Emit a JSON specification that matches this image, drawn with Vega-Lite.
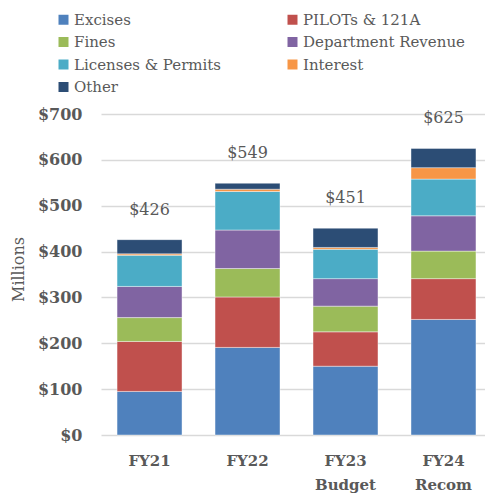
{
  "$schema": "https://vega.github.io/schema/vega-lite/v6.json",
  "width": 384,
  "height": 321,
  "autosize": "none",
  "padding": {"left": 101, "top": 114, "right": 0, "bottom": 62},
  "background": "white",
  "config": {
    "view": {"stroke": null},
    "font": "DejaVu Serif",
    "text": {"font": "DejaVu Serif"},
    "legend": {"labelFont": "DejaVu Serif", "titleFont": "DejaVu Serif"}
  },
  "data": {
    "values": [
      {"year": "FY21", "cat": "Excises", "ord": 1, "value": 95},
      {"year": "FY21", "cat": "PILOTs & 121A", "ord": 2, "value": 109},
      {"year": "FY21", "cat": "Fines", "ord": 3, "value": 52},
      {"year": "FY21", "cat": "Department Revenue", "ord": 4, "value": 68},
      {"year": "FY21", "cat": "Licenses & Permits", "ord": 5, "value": 68},
      {"year": "FY21", "cat": "Interest", "ord": 6, "value": 3},
      {"year": "FY21", "cat": "Other", "ord": 7, "value": 31},
      {"year": "FY22", "cat": "Excises", "ord": 1, "value": 191},
      {"year": "FY22", "cat": "PILOTs & 121A", "ord": 2, "value": 110},
      {"year": "FY22", "cat": "Fines", "ord": 3, "value": 62},
      {"year": "FY22", "cat": "Department Revenue", "ord": 4, "value": 84},
      {"year": "FY22", "cat": "Licenses & Permits", "ord": 5, "value": 84},
      {"year": "FY22", "cat": "Interest", "ord": 6, "value": 5},
      {"year": "FY22", "cat": "Other", "ord": 7, "value": 13},
      {"year": "FY23 Budget", "cat": "Excises", "ord": 1, "value": 150},
      {"year": "FY23 Budget", "cat": "PILOTs & 121A", "ord": 2, "value": 75},
      {"year": "FY23 Budget", "cat": "Fines", "ord": 3, "value": 56},
      {"year": "FY23 Budget", "cat": "Department Revenue", "ord": 4, "value": 60},
      {"year": "FY23 Budget", "cat": "Licenses & Permits", "ord": 5, "value": 64},
      {"year": "FY23 Budget", "cat": "Interest", "ord": 6, "value": 4},
      {"year": "FY23 Budget", "cat": "Other", "ord": 7, "value": 42},
      {"year": "FY24 Recom", "cat": "Excises", "ord": 1, "value": 252},
      {"year": "FY24 Recom", "cat": "PILOTs & 121A", "ord": 2, "value": 89},
      {"year": "FY24 Recom", "cat": "Fines", "ord": 3, "value": 60},
      {"year": "FY24 Recom", "cat": "Department Revenue", "ord": 4, "value": 77},
      {"year": "FY24 Recom", "cat": "Licenses & Permits", "ord": 5, "value": 80},
      {"year": "FY24 Recom", "cat": "Interest", "ord": 6, "value": 25},
      {"year": "FY24 Recom", "cat": "Other", "ord": 7, "value": 42}
    ]
  },
  "encoding": {
    "x": {
      "field": "year",
      "type": "nominal",
      "sort": null,
      "scale": {"paddingInner": 0.337, "paddingOuter": 0.128, "align": 0.64},
      "axis": {
        "title": null,
        "labelAngle": 0,
        "labelExpr": "split(datum.label, ' ')",
        "labelFont": "DejaVu Serif",
        "labelFontWeight": "bold",
        "labelFontSize": 15,
        "labelColor": "#595959",
        "labelBaseline": "top",
        "labelLineHeight": 24,
        "labelPadding": 18,
        "ticks": false,
        "tickSize": 0,
        "domain": false,
        "grid": false
      }
    }
  },
  "layer": [
    {
      "mark": {"type": "bar", "stroke": "#ffffff", "strokeWidth": 0.6, "strokeOpacity": 0.7},
      "encoding": {
        "y": {
          "field": "value",
          "type": "quantitative",
          "stack": "zero",
          "scale": {"domain": [0, 700], "nice": false},
          "axis": {
            "title": "Millions",
            "titleFont": "DejaVu Serif",
            "titleFontWeight": "normal",
            "titleFontSize": 16,
            "titleColor": "#595959",
            "titleX": -83,
            "titleY": 155,
            "titleAlign": "center",
            "titleBaseline": "middle",
            "titleAngle": -90,
            "values": [0, 100, 200, 300, 400, 500, 600, 700],
            "labelExpr": "'$' + datum.value",
            "labelFont": "DejaVu Serif",
            "labelFontWeight": "bold",
            "labelFontSize": 16,
            "labelColor": "#595959",
            "labelPadding": 19,
            "ticks": false,
            "tickSize": 0,
            "domain": false,
            "grid": true,
            "gridColor": "#d9d9d9",
            "gridWidth": 1.5
          }
        },
        "color": {
          "field": "cat",
          "type": "nominal",
          "scale": {
            "domain": ["Excises", "PILOTs & 121A", "Fines", "Department Revenue", "Licenses & Permits", "Interest", "Other"],
            "range": ["#4f81bd", "#c0504d", "#9bbb59", "#8064a2", "#4bacc6", "#f79646", "#2c4d75"]
          },
          "legend": {
            "title": null,
            "orient": "none",
            "direction": "horizontal",
            "legendX": -45,
            "legendY": -102,
            "columns": 2,
            "columnPadding": 63,
            "rowPadding": 6.5,
            "padding": 0,
            "symbolType": "square",
            "symbolSize": 100,
            "symbolStrokeWidth": 0,
            "labelFont": "DejaVu Serif",
            "labelFontSize": 15,
            "labelColor": "#595959",
            "labelOffset": 3,
            "labelLimit": 300
          }
        },
        "order": {"field": "ord", "type": "quantitative", "sort": "ascending"}
      }
    },
    {
      "transform": [{"aggregate": [{"op": "sum", "field": "value", "as": "total"}], "groupby": ["year"]}],
      "mark": {"type": "text", "dy": -30, "baseline": "middle", "font": "DejaVu Serif", "fontSize": 16, "color": "#595959"},
      "encoding": {
        "y": {"field": "total", "type": "quantitative"},
        "text": {"field": "total", "type": "quantitative", "format": "$.0f"}
      }
    }
  ]
}
